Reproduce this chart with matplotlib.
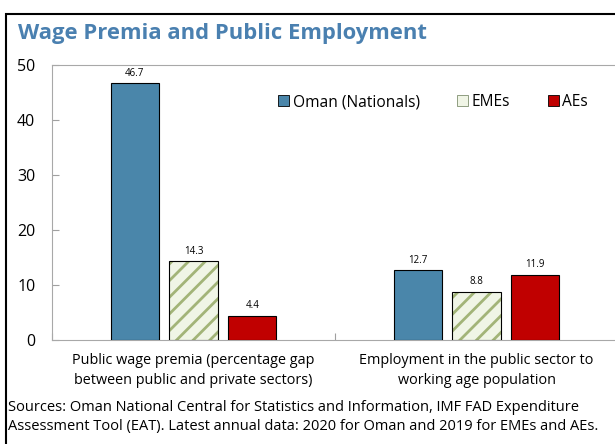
import numpy as np
import matplotlib.pyplot as plt
from matplotlib.patches import Rectangle, Patch

plt.rcParams['font.family'] = ['Open Sans', 'DejaVu Sans']

categories = ['Public wage premia (percentage gap\nbetween public and private sectors)',
              'Employment in the public sector to\nworking age population']
series = ['Oman (Nationals)', 'EMEs', 'AEs']
oman = [46.7, 12.7]
emes = [14.3, 8.8]
aes = [4.4, 11.9]
yticks = [0, 10, 20, 30, 40, 50]

blue = '#4A86AA'
red = '#C00000'
hatch_bg = '#F0F5E6'
hatch_fg = '#A2B478'

W, H = 615, 444
fig = plt.figure(figsize=(W / 100, H / 100), dpi=100)

# outer frame (right/bottom run off the image)
fig.patches.append(Rectangle((6 / W, -0.1), 1.2, (H - 14) / H + 0.1, transform=fig.transFigure,
                             fill=False, edgecolor='black', linewidth=1.5))

fig.text(18 / W, 1 - 34 / H, 'Wage Premia and Public Employment', fontsize=15.8, fontweight='bold',
         color='#4A80B0', va='center', ha='left')

ax = fig.add_axes([52 / W, 1 - 340 / H, 566 / W, 275 / H])
x = np.arange(len(categories))
bw = 0.17
off = 0.208

ax.bar(x - off, oman, bw, color=blue, edgecolor='black', linewidth=0.8, zorder=3)
plt.rcParams['hatch.linewidth'] = 2.0
ax.bar(x, emes, bw, color=hatch_bg, edgecolor=hatch_fg, hatch='//', linewidth=0, zorder=3)
ax.bar(x, emes, bw, fill=False, edgecolor='black', linewidth=0.8, zorder=4)
ax.bar(x + off, aes, bw, color=red, edgecolor='black', linewidth=0.8, zorder=3)

for xs, vals in [(x - off, oman), (x, emes), (x + off, aes)]:
    for xi, v in zip(xs, vals):
        ax.text(xi, v + 0.8, f'{v:.1f}', ha='center', va='bottom', fontsize=7)

ax.set_xlim(-0.5, 1.5)
ax.set_ylim(0, 50)
ax.set_yticks(yticks)
ax.set_xticks([-0.5, 0.5, 1.5])
ax.set_xticklabels([])
ax.tick_params(axis='y', direction='in', length=5, labelsize=11.5, color='#A0A0A0', pad=12)
ax.tick_params(axis='x', direction='in', length=5, color='#A0A0A0')
for s in ['left', 'top', 'bottom']:
    ax.spines[s].set_color('#A8A8A8')
ax.spines['right'].set_visible(False)

for xi, lab in zip(x, categories):
    ax.text(xi, -2.4, lab, ha='center', va='top', fontsize=10.4, linespacing=1.45)

handles = [Patch(facecolor=blue, edgecolor='black', linewidth=0.6),
           Patch(facecolor=hatch_bg, edgecolor='#7F8F6F', linewidth=0.6),
           Patch(facecolor=red, edgecolor='black', linewidth=0.6)]
ax.legend(handles, series, loc='upper left', bbox_to_anchor=(212 / 566, 0.945), ncol=3, frameon=False,
          fontsize=11.2, handlelength=0.7, handleheight=0.7, handletextpad=0.25, columnspacing=2.4)

fig.text(8 / W, 1 - 417 / H, 'Sources: Oman National Central for Statistics and Information, IMF FAD Expenditure\n'
         'Assessment Tool (EAT). Latest annual data: 2020 for Oman and 2019 for EMEs and AEs.',
         fontsize=10.5, va='center', ha='left', linespacing=1.4)

fig.savefig('out.png', dpi=100)
